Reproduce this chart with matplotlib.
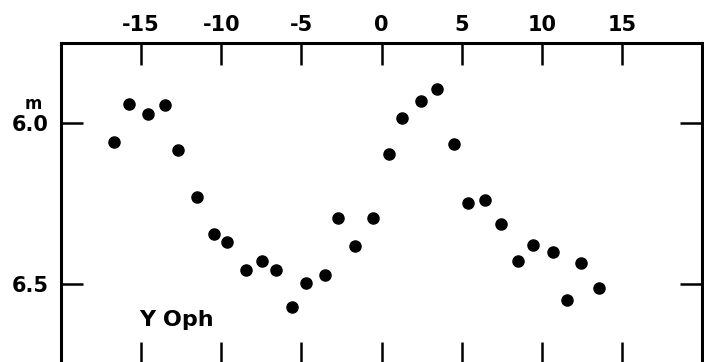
import matplotlib
matplotlib.use("Agg")
import matplotlib.pyplot as plt

phase = [-16.69, -15.75, -14.54, -13.50, -12.73, -11.52, -10.48, -9.61, -8.44, -7.48,
         -6.56, -5.56, -4.71, -3.52, -2.73, -1.63, -0.54, 0.46, 1.31, 2.44,
         3.44, 4.54, 5.39, 6.46, 7.46, 8.52, 9.44, 10.69, 11.56, 12.42, 13.56]
mag = [6.057, 5.940, 5.971, 5.942, 6.083, 6.230, 6.344, 6.370, 6.458, 6.430,
       6.456, 6.572, 6.498, 6.473, 6.294, 6.382, 6.294, 6.097, 5.984, 5.930,
       5.892, 6.064, 6.249, 6.239, 6.314, 6.430, 6.379, 6.401, 6.550, 6.435, 6.513]

x_ticks = [-15, -10, -5, 0, 5, 10, 15]
x_tick_labels = ["-15", "-10", "-5", "0", "5", "10", "15"]
y_ticks = [6.0, 6.5]
y_tick_labels = ["6.0", "6.5"]

plt.rcParams["font.family"] = "DejaVu Sans"
plt.rcParams["font.weight"] = "bold"

W, H = 704, 362
fig = plt.figure(figsize=(W / 100, H / 100), dpi=100)
# axes box: bottom edge sits just below the picture, as in the scan
ax = fig.add_axes([61 / W, -2 / H, (702 - 61) / W, (364 - 43) / H])

ax.plot(phase, mag, "o", color="black", ms=8, mec="black")

ax.set_xlim(-20, 20)
ax.set_ylim(6.75, 5.75)

ax.set_xticks(x_ticks)
ax.set_xticklabels(x_tick_labels)
ax.set_yticks(y_ticks)
ax.set_yticklabels(y_tick_labels)

ax.tick_params(axis="both", direction="in", length=16, width=1.8,
               top=True, bottom=True, left=True, right=True,
               labeltop=True, labelbottom=False, labelleft=True, labelright=False,
               labelsize=15)
ax.tick_params(axis="x", pad=6)
ax.tick_params(axis="y", pad=9)
for lab in ax.get_xticklabels() + ax.get_yticklabels():
    lab.set_fontweight("bold")

for sp in ax.spines.values():
    sp.set_linewidth(2.2)

ax.text(-15.1, 6.632, "Y Oph", fontsize=16, fontweight="bold",
        ha="left", va="baseline")
fig.text(33 / W, 1 - 104 / H, "m", fontsize=12, fontweight="bold",
         ha="center", va="center")

fig.savefig("out.png", dpi=100)
